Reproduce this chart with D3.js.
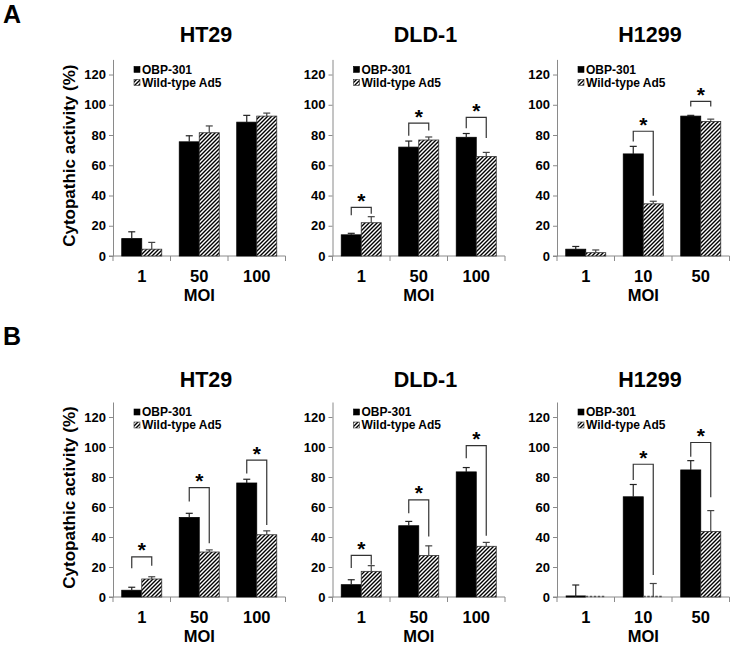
<!DOCTYPE html>
<html><head><meta charset="utf-8">
<script src="https://cdn.jsdelivr.net/npm/d3@7"></script>
<style>
body{margin:0;background:#fff}
svg{display:block}
text{font-family:"Liberation Sans",Arial,Helvetica,sans-serif;font-weight:bold;fill:#000}
</style>
</head><body>
<svg id="c" width="733" height="646"></svg>
<script>
// ---------- data ----------
const seriesNames = ["OBP-301", "Wild-type Ad5"];
const yTicks = [0, 20, 40, 60, 80, 100, 120];
const yMax = 130;
const cellLines = ["HT29", "DLD-1", "H1299"];
const moiHT29 = ["1", "50", "100"];
const moiDLD1 = ["1", "50", "100"];
const moiH1299 = ["1", "10", "50"];
const xAxisTitle = "MOI";
const yAxisTitle = "Cytopathic activity (%)";
const panelLetters = ["A", "B"];

// Panel A
const A_HT29_obp = [11.5, 75.5, 88.5], A_HT29_obpErr = [4.5, 4, 4.5];
const A_HT29_wt = [4.5, 81.5, 92.5], A_HT29_wtErr = [4.5, 4.5, 2];
const A_HT29_sig = [];
const A_DLD1_obp = [14, 72, 78.5], A_DLD1_obpErr = [1, 4, 2.5];
const A_DLD1_wt = [22, 76.7, 65.8], A_DLD1_wtErr = [4, 2, 2.7];
const A_DLD1_sig = [[0, 32.2, 27, 28], [1, 87.8, 79.5, 83], [2, 91.6, 84.4, 78]];
const A_H1299_obp = [4.5, 67.5, 92.5], A_H1299_obpErr = [1.8, 5, 0.5];
const A_H1299_wt = [2.2, 34.5, 89], A_H1299_wtErr = [1.8, 1.7, 1.5];
const A_H1299_sig = [[1, 82.5, 75.7, 39.8], [2, 102.2, 98.9, 98.9]];

// Panel B
const B_HT29_obp = [4.5, 53, 76], B_HT29_obpErr = [2, 2.8, 2.5];
const B_HT29_wt = [12, 30, 41.5], B_HT29_wtErr = [1.5, 1.4, 2.6];
const B_HT29_sig = [[0, 26.7, 19.1, 20.9], [1, 72.9, 63.6, 35.8], [2, 91.3, 82.4, 48]];
const B_DLD1_obp = [8.2, 47.5, 83.4], B_DLD1_obpErr = [3.3, 2.9, 2.9];
const B_DLD1_wt = [17.1, 27.7, 33.8], B_DLD1_wtErr = [3.8, 6.4, 2.6];
const B_DLD1_sig = [[0, 27.7, 19.3, 21.5], [1, 64.8, 55.9, 40.4], [2, 100.9, 92.5, 40.8]];
const B_H1299_obp = [0, 66.8, 84.7], B_H1299_obpErr = [8, 8.2, 6.2];
const B_H1299_wt = [0, 0, 43.7], B_H1299_wtErr = [0, 9, 13.9];
const B_H1299_sig = [[1, 88.5, 78, 14.7], [2, 103, 93.5, 66.5]];

// ---------- layout ----------
const axisX = [113, 332.5, 557];
const bandW = 57.5, barW = 20;
const rows = [
  {letter: panelLetters[0], letterY: 23.3, titleY: 41.7, zero: 256, top: 59.4,
   panels: [
     {cats: moiHT29, obp: A_HT29_obp, obpErr: A_HT29_obpErr, wt: A_HT29_wt, wtErr: A_HT29_wtErr, sig: A_HT29_sig},
     {cats: moiDLD1, obp: A_DLD1_obp, obpErr: A_DLD1_obpErr, wt: A_DLD1_wt, wtErr: A_DLD1_wtErr, sig: A_DLD1_sig},
     {cats: moiH1299, obp: A_H1299_obp, obpErr: A_H1299_obpErr, wt: A_H1299_wt, wtErr: A_H1299_wtErr, sig: A_H1299_sig}
   ]},
  {letter: panelLetters[1], letterY: 345, titleY: 387.3, zero: 597, top: 402,
   panels: [
     {cats: moiHT29, obp: B_HT29_obp, obpErr: B_HT29_obpErr, wt: B_HT29_wt, wtErr: B_HT29_wtErr, sig: B_HT29_sig},
     {cats: moiDLD1, obp: B_DLD1_obp, obpErr: B_DLD1_obpErr, wt: B_DLD1_wt, wtErr: B_DLD1_wtErr, sig: B_DLD1_sig},
     {cats: moiH1299, obp: B_H1299_obp, obpErr: B_H1299_obpErr, wt: B_H1299_wt, wtErr: B_H1299_wtErr, sig: B_H1299_sig}
   ]}
];

const svg = d3.select("#c");
const defs = svg.append("defs");
const pat = defs.append("pattern").attr("id", "hatch").attr("patternUnits", "userSpaceOnUse")
  .attr("width", 4).attr("height", 4);
pat.append("rect").attr("width", 4).attr("height", 4).attr("fill", "#fff");
pat.append("path").attr("d", "M-1,1 l2,-2 M0,4 l4,-4 M3,5 l2,-2")
  .attr("stroke", "#000").attr("stroke-width", 1.4);

const axisColor = "#8a8a8a";

rows.forEach(row => {
  svg.append("text").attr("x", 3).attr("y", row.letterY).attr("font-size", 25).text(row.letter);

  row.panels.forEach((p, pi) => {
    const x0 = axisX[pi];
    const g = svg.append("g");
    const y = d3.scaleLinear().domain([0, yMax]).range([row.zero, row.top]);
    const x = d3.scaleBand().domain(p.cats).range([x0, x0 + bandW * p.cats.length]).padding(0);
    const s = d3.scaleBand().domain(seriesNames).range([0, barW * 2]);
    const off = (x.bandwidth() - barW * 2) / 2;
    const cx = (i, k) => x(p.cats[i]) + off + s(seriesNames[k]) + barW / 2;

    // title
    g.append("text").attr("x", x0 + 93).attr("y", row.titleY).attr("text-anchor", "middle")
      .attr("font-size", 21.5).text(cellLines[pi]);

    // y axis
    const ya = g.append("g").attr("transform", `translate(${x0},0)`)
      .call(d3.axisLeft(y).tickValues(yTicks).tickSize(4).tickSizeOuter(0).tickPadding(3));
    ya.select(".domain").attr("stroke", axisColor);
    ya.selectAll(".tick line").attr("stroke", axisColor);
    ya.selectAll(".tick text").attr("font-size", 13).attr("font-family", null).attr("fill", "#000");

    // x axis line + boundary ticks
    const xEnd = x0 + bandW * p.cats.length;
    g.append("line").attr("x1", x0 - 4).attr("x2", xEnd).attr("y1", row.zero).attr("y2", row.zero)
      .attr("stroke", axisColor);
    const bounds = p.cats.map(c => x(c)).concat([xEnd]);
    g.selectAll(".xt").data(bounds).enter().append("line")
      .attr("x1", d => d).attr("x2", d => d).attr("y1", row.zero).attr("y2", row.zero + 5)
      .attr("stroke", axisColor);

    // category labels
    g.selectAll(".cl").data(p.cats).enter().append("text")
      .attr("x", d => x(d) + x.bandwidth() / 2).attr("y", row.zero + 26)
      .attr("text-anchor", "middle").attr("font-size", 16.5).text(d => d);
    g.append("text").attr("x", (x0 + xEnd) / 2).attr("y", row.zero + 44.5)
      .attr("text-anchor", "middle").attr("font-size", 16.5).text(xAxisTitle);

    // bars
    const series = [
      {vals: p.obp, errs: p.obpErr, fill: "#000", stroke: "#000", ecol: "#222"},
      {vals: p.wt, errs: p.wtErr, fill: "url(#hatch)", stroke: "#333", ecol: "#444"}
    ];
    series.forEach((ser, k) => {
      ser.vals.forEach((v, i) => {
        const left = x(p.cats[i]) + off + s(seriesNames[k]);
        if (v === 0) {
          g.append("line").attr("x1", left).attr("x2", left + s.bandwidth())
            .attr("y1", y(0) - 0.5).attr("y2", y(0) - 0.5)
            .attr("stroke", k === 0 ? "#000" : "#555").attr("stroke-width", k === 0 ? 2 : 1.6)
            .attr("stroke-dasharray", k === 1 ? "2.5,1.5" : null);
        } else {
          g.append("rect").attr("x", left).attr("y", y(v)).attr("width", s.bandwidth())
            .attr("height", y(0) - y(v)).attr("fill", ser.fill).attr("stroke", ser.stroke)
            .attr("stroke-width", 0.8);
        }
      });
    });
    // error bars
    series.forEach((ser, k) => {
      ser.vals.forEach((v, i) => {
        const e = ser.errs[i];
        if (!e) return;
        const c = cx(i, k);
        g.append("line").attr("x1", c).attr("x2", c).attr("y1", y(v)).attr("y2", y(v + e))
          .attr("stroke", ser.ecol).attr("stroke-width", 1.2);
        g.append("line").attr("x1", c - 3.5).attr("x2", c + 3.5).attr("y1", y(v + e)).attr("y2", y(v + e))
          .attr("stroke", ser.ecol).attr("stroke-width", 1.2);
      });
    });

    // significance brackets
    p.sig.forEach(([i, top, l, r]) => {
      const lx = cx(i, 0), rx = cx(i, 1);
      g.append("path").attr("d", `M${lx},${y(l)}V${y(top)}H${rx}V${y(r)}`)
        .attr("fill", "none").attr("stroke", "#333").attr("stroke-width", 1.2);
      g.append("text").attr("x", (lx + rx) / 2).attr("y", y(top) + 0.5)
        .attr("text-anchor", "middle").attr("font-size", 21).text("*");
    });

    // legend
    const lg = g.append("g");
    seriesNames.forEach((nm, k) => {
      const ly = row.top + 10 + k * 13;
      lg.append("rect").attr("x", x0 + 21).attr("y", ly - 3).attr("width", 6).attr("height", 6)
        .attr("fill", k === 0 ? "#000" : "url(#hatch)").attr("stroke", k === 0 ? "#000" : "#333")
        .attr("stroke-width", 0.6);
      lg.append("text").attr("x", x0 + 29).attr("y", ly + 4.3).attr("font-size", 12).text(nm);
    });

    // y axis title
    if (pi === 0) {
      svg.append("text").attr("transform", `translate(75,${(row.top + row.zero) / 2 - 2}) rotate(-90)`)
        .attr("text-anchor", "middle").attr("font-size", 17).text(yAxisTitle);
    }
  });
});
</script>
</body></html>
